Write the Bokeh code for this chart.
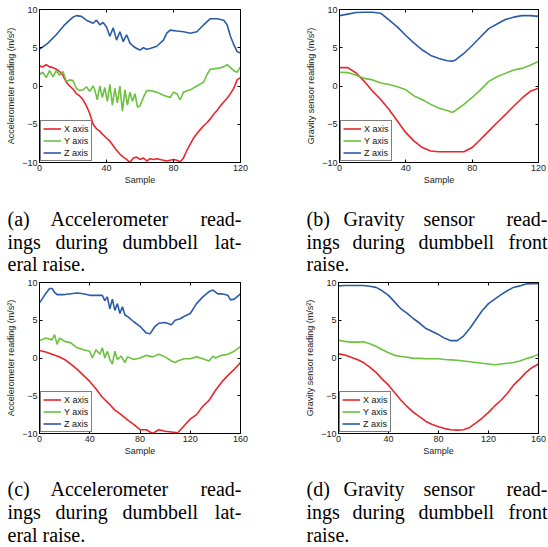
from bokeh.plotting import figure
from bokeh.models import LinearAxis, FixedTicker, Label, Legend, LegendItem, Range1d
from bokeh.layouts import column, row
from bokeh.embed import file_html
from bokeh.resources import INLINE

# ---------------- data ----------------
y_ticks = [-10, -5, 0, 5, 10]
y_tick_labels = ["−10", "−5", "0", "5", "10"]
x_ticks_120 = [0, 40, 80, 120]
x_ticks_160 = [0, 40, 80, 120, 160]
series_names = ["X axis", "Y axis", "Z axis"]

# (a) accelerometer, lateral raise
a_x_s = [0, 2, 4, 6, 8, 10, 12, 14, 16, 18, 20, 22, 24, 26, 28, 30, 32, 34, 36, 38, 40, 42, 44, 46, 48, 50,
         52, 54, 56, 58, 60, 62, 64, 66, 68, 70, 72, 74, 76, 78, 80, 82, 84, 86, 88, 90, 92, 94, 96, 98, 100,
         102, 104, 106, 108, 110, 112, 114, 116, 118, 120]
a_x_v = [2.6, 2.5, 2.8, 2.5, 2.4, 2.2, 1.9, 1.4, 0.5, 0.0, -0.4, -1.0, -1.3, -1.8, -2.6, -3.6, -5.0, -5.6, -5.9,
         -6.4, -6.8, -7.2, -7.8, -8.4, -8.9, -9.3, -9.6, -10.0, -9.4, -9.3, -9.6, -9.4, -9.8, -9.5, -9.6, -9.5,
         -9.6, -9.7, -9.8, -9.7, -9.6, -9.7, -9.9, -9.4, -8.4, -7.6, -6.8, -6.2, -5.7, -5.2, -4.8, -4.3, -3.7,
         -3.2, -2.6, -2.1, -1.6, -1.0, -0.3, 0.8, 1.1]
a_y_s = [0, 2, 4, 6, 8, 10, 12, 14, 16, 18, 20, 22, 24, 26, 28, 30, 32, 33, 34.5, 36, 37.5, 39, 40.5, 42, 43.5,
         45, 46.5, 48, 49.5, 51, 52.5, 54, 55.5, 57, 58.5, 60, 62, 64, 66, 70, 74, 78, 80, 82, 84, 86, 90, 94,
         98, 100, 102, 106, 110, 112, 116, 118, 120]
a_y_v = [1.5, 1.8, 1.1, 2.0, 1.2, 2.0, 1.4, 1.9, 0.6, 0.8, 0.7, -0.3, -0.6, -0.5, -0.1, -0.7, 0.0, -0.5, -1.8,
         0.0, -1.5, -0.2, -2.0, 0.2, -2.5, -0.3, -2.2, 0.0, -3.3, -0.5, -2.5, -0.8, -2.0, -1.0, -2.8, -2.6, -1.5,
         -0.6, -0.6, -0.8, -1.2, -1.5, -0.8, -1.0, -1.8, -0.8, -0.5, 0.0, 0.5, 1.5, 2.2, 2.3, 2.5, 2.8, 2.0,
         1.8, 2.5]
a_z_s = [0, 5, 10, 15, 18, 20, 22, 25, 28, 30, 32, 34, 36, 38, 40, 42, 44, 46, 48, 50, 52, 54, 56, 58, 60, 62,
         64, 66, 70, 74, 76, 78, 82, 86, 90, 94, 98, 102, 106, 110, 112, 114, 116, 118, 120]
a_z_v = [4.8, 5.6, 6.7, 8.0, 8.6, 9.0, 9.2, 9.1, 8.6, 8.4, 8.2, 8.6, 8.0, 8.3, 7.7, 6.5, 7.6, 6.0, 7.1, 5.8, 6.7,
         5.6, 5.2, 4.9, 4.7, 5.0, 4.8, 4.9, 5.2, 6.0, 6.9, 7.3, 7.2, 7.1, 6.9, 7.1, 8.0, 8.8, 8.8, 8.6, 8.0,
         6.5, 5.4, 4.5, 4.3]

# (b) gravity sensor, front raise
b_s = [0, 5, 10, 15, 20, 25, 30, 35, 40, 45, 50, 55, 60, 65, 68, 70, 75, 80, 85, 90, 95, 100, 105, 110, 115, 120]
b_x_v = [2.4, 2.4, 1.7, 0.6, -0.7, -1.8, -3.1, -4.6, -6.1, -7.2, -8.05, -8.5, -8.6, -8.6, -8.6, -8.6, -8.6,
         -8.05, -7.0, -5.9, -4.8, -3.75, -2.65, -1.6, -0.7, -0.3]
b_y_v = [1.8, 1.75, 1.4, 1.0, 0.8, 0.4, 0.2, -0.1, -0.5, -1.3, -1.8, -2.4, -2.9, -3.2, -3.45, -3.2, -2.4, -1.5,
         -0.5, 0.6, 1.2, 1.65, 2.1, 2.3, 2.7, 3.2]
b_z_v = [9.2, 9.4, 9.6, 9.65, 9.65, 9.5, 8.6, 7.7, 6.6, 5.6, 4.7, 4.0, 3.6, 3.3, 3.25, 3.4, 4.25, 5.3, 6.4, 7.5,
         8.1, 8.7, 9.0, 9.2, 9.2, 9.1]

# (c) accelerometer, lateral raise
c_x_s = [0, 5, 10, 15, 20, 25, 30, 35, 40, 45, 50, 55, 60, 65, 70, 75, 80, 85, 90, 95, 100, 105, 110, 115, 120,
         125, 130, 135, 140, 145, 150, 155, 160]
c_x_v = [1.0, 0.8, 0.5, 0.2, -0.2, -0.8, -1.5, -2.3, -3.1, -4.1, -5.2, -6.0, -6.9, -7.5, -8.2, -8.8, -9.5, -9.5,
         -10.0, -9.5, -9.7, -9.8, -9.9, -9.0, -8.1, -7.5, -6.4, -5.6, -4.3, -3.2, -2.3, -1.5, -0.6]
c_y_s = [0, 5, 10, 12, 14, 16, 20, 25, 30, 35, 40, 42, 45, 48, 50, 52, 54, 56, 58, 60, 62, 65, 68, 70, 75, 80,
         85, 90, 95, 100, 105, 108, 110, 115, 120, 125, 130, 135, 138, 140, 145, 150, 155, 160]
c_y_v = [2.3, 2.65, 2.4, 3.1, 1.8, 2.65, 2.2, 2.0, 1.35, 1.1, 0.9, 0.0, 1.1, 0.5, 1.35, 0.0, 0.9, -0.2, -0.8,
         0.9, -0.2, 0.25, -0.6, 0.15, -0.2, 0.0, 0.35, 0.15, 0.5, 0.15, -0.4, -0.6, -0.4, -0.1, -0.1, 0.15, -0.1,
         -0.4, 0.25, 0.0, 0.35, 0.5, 0.9, 1.5]
c_z_s = [0, 4, 8, 10, 12, 14, 20, 30, 35, 40, 45, 50, 52, 54, 56, 58, 60, 62, 64, 66, 68, 70, 75, 80, 85, 88,
         90, 92, 95, 100, 105, 108, 112, 115, 120, 125, 130, 135, 138, 142, 145, 150, 152, 155, 160]
c_z_v = [7.3, 8.3, 9.2, 9.2, 8.7, 8.4, 8.4, 8.6, 8.5, 8.3, 8.3, 8.3, 7.6, 8.1, 6.5, 7.8, 6.3, 7.2, 5.9, 6.8, 5.7,
         5.5, 4.8, 4.2, 3.3, 3.2, 3.7, 4.2, 4.6, 4.7, 4.4, 5.0, 5.2, 5.5, 5.9, 7.2, 8.1, 8.8, 9.0, 8.5, 8.5,
         8.3, 7.7, 7.8, 8.5]

# (d) gravity sensor, front raise
d_s = [0, 5, 10, 15, 20, 25, 30, 35, 40, 45, 50, 55, 60, 65, 70, 75, 80, 85, 90, 95, 100, 105, 110, 115, 120,
       125, 130, 135, 140, 145, 150, 155, 160]
d_x_v = [0.55, 0.4, 0.1, -0.2, -0.6, -1.2, -1.9, -2.8, -3.6, -4.6, -5.6, -6.45, -7.2, -7.8, -8.4, -8.8, -9.1,
         -9.35, -9.5, -9.55, -9.5, -9.2, -8.6, -7.95, -7.2, -6.35, -5.6, -4.7, -3.6, -2.8, -1.9, -1.25, -0.8]
d_y_v = [2.35, 2.2, 2.1, 2.1, 2.15, 1.9, 1.55, 1.1, 0.7, 0.35, 0.2, 0.1, -0.05, -0.05, -0.1, -0.1, -0.1, -0.2,
         -0.25, -0.3, -0.4, -0.5, -0.6, -0.7, -0.8, -0.9, -0.8, -0.7, -0.6, -0.4, -0.1, 0.15, 0.5]
d_z_v = [9.55, 9.6, 9.6, 9.6, 9.6, 9.5, 9.35, 8.9, 8.3, 7.4, 6.5, 5.9, 5.2, 4.6, 3.9, 3.5, 3.1, 2.6, 2.3, 2.3,
         2.9, 3.9, 5.1, 6.3, 7.2, 7.8, 8.4, 8.9, 9.35, 9.55, 9.8, 9.85, 9.85]

cap_a = [[("(a)", 7, "left"), ("Accelerometer", 50, "left"), ("read-", 241, "right")],
         [("ings", 7, "left"), ("during", 55, "left"), ("dumbbell", 122, "left"), ("lat-", 241, "right")],
         [("eral raise.", 7, "left")]]
cap_b = [[("(b)", 306, "left"), ("Gravity", 343, "left"), ("sensor", 423, "left"), ("read-", 547, "right")],
         [("ings", 306, "left"), ("during", 352, "left"), ("dumbbell", 418, "left"), ("front", 547, "right")],
         [("raise.", 306, "left")]]
cap_c = [[("(c)", 7, "left"), ("Accelerometer", 50, "left"), ("read-", 241, "right")],
         [("ings", 7, "left"), ("during", 55, "left"), ("dumbbell", 122, "left"), ("lat-", 241, "right")],
         [("eral raise.", 7, "left")]]
cap_d = [[("(d)", 306, "left"), ("Gravity", 343, "left"), ("sensor", 423, "left"), ("read-", 547, "right")],
         [("ings", 306, "left"), ("during", 352, "left"), ("dumbbell", 418, "left"), ("front", 547, "right")],
         [("raise.", 306, "left")]]

RED = "#e8262b"
GREEN = "#6cc13f"
BLUE = "#2c5ba8"
SANS = "Liberation Sans"
SERIF = "Liberation Serif"


def panel(series, xmax, xticks, ylabel, fig_box, frame_box):
    # fig_box: (left, top, width, height) in page px; frame_box: (left, top, right, bottom)
    fl, ft, fw, fh = fig_box
    L, T, R, B = frame_box
    p = figure(width=fw, height=fh, x_range=Range1d(0, xmax), y_range=Range1d(-10, 10),
               output_backend="svg", toolbar_location=None,
               min_border_left=L - fl, min_border_right=fl + fw - R,
               min_border_top=T - ft, min_border_bottom=ft + fh - B,
               x_axis_label="Sample", y_axis_label=ylabel)
    p.xgrid.visible = False
    p.ygrid.visible = False
    p.outline_line_color = "black"
    p.outline_line_width = 1
    p.background_fill_color = "white"
    p.border_fill_color = "white"
    for ax, ticks in ((p.xaxis[0], xticks), (p.yaxis[0], y_ticks)):
        ax.ticker = FixedTicker(ticks=ticks)
        ax.major_tick_in = 3
        ax.major_tick_out = 0
        ax.minor_tick_in = 0
        ax.minor_tick_out = 0
        ax.axis_line_color = "black"
        ax.major_tick_line_color = "black"
        ax.major_label_text_font = SANS
        ax.major_label_text_font_size = "9px"
        ax.major_label_text_color = "#222222"
        ax.axis_label_text_font = SANS
        ax.axis_label_text_font_size = "9px"
        ax.axis_label_text_font_style = "normal"
        ax.axis_label_text_color = "#222222"
    p.yaxis[0].major_label_overrides = dict(zip(y_ticks, y_tick_labels))
    p.xaxis[0].major_label_standoff = 2
    p.xaxis[0].axis_label_standoff = 1
    p.yaxis[0].major_label_standoff = 2
    p.yaxis[0].axis_label_standoff = 3
    # mirrored inward ticks (MATLAB box style)
    for side, ticks in (("right", y_ticks), ("above", xticks)):
        ax = LinearAxis(ticker=FixedTicker(ticks=ticks),
                        major_label_overrides={t: "" for t in ticks},
                        major_tick_in=3, major_tick_out=0, minor_tick_in=0, minor_tick_out=0,
                        major_label_standoff=0, major_label_text_font_size="1px",
                        axis_line_color="black", major_tick_line_color="black")
        p.add_layout(ax, side)

    items = []
    for (xs, ys, col), name in zip(series, series_names):
        r = p.line(xs, ys, line_color=col, line_width=1.6)
        items.append(LegendItem(label=name, renderers=[r]))
    leg = Legend(items=items, location=(1, 1), margin=0, padding=2, spacing=1,
                 glyph_height=11, glyph_width=18, label_height=11, label_standoff=3,
                 label_text_font=SANS, label_text_font_size="9px", label_text_color="#111111",
                 border_line_color="black", border_line_width=1.5, background_fill_alpha=1)
    p.add_layout(leg, "center")
    return p


def caption(lines, fig_box, baselines):
    fl, ft, fw, fh = fig_box
    c = figure(width=fw, height=fh, x_range=Range1d(0, fw), y_range=Range1d(fh, 0),
               output_backend="svg", toolbar_location=None, x_axis_type=None, y_axis_type=None,
               min_border=0, min_border_left=0, min_border_right=0, min_border_top=0, min_border_bottom=0)
    c.outline_line_color = None
    c.xgrid.visible = False
    c.ygrid.visible = False
    c.background_fill_color = "white"
    c.border_fill_color = "white"
    for line, base in zip(lines, baselines):
        for text, px, align in line:
            c.add_layout(Label(x=px - fl, y=base - 7 - ft, text=text,
                               text_font=SERIF, text_font_size="20px", text_color="black",
                               text_align=align, text_baseline="middle"))
    return c


pa = panel([(a_x_s, a_x_v, RED), (a_y_s, a_y_v, GREEN), (a_z_s, a_z_v, BLUE)], 120, x_ticks_120,
           "Accelerometer reading (m/s²)", (0, 0, 274, 190), (39, 9, 240, 164))
pb = panel([(b_s, b_x_v, RED), (b_s, b_y_v, GREEN), (b_s, b_z_v, BLUE)], 120, x_ticks_120,
           "Gravity sensor reading (m/s²)", (274, 0, 274, 190), (339, 9, 538, 162))
ca = caption(cap_a, (0, 190, 274, 84), [225, 248, 270])
cb = caption(cap_b, (274, 190, 274, 84), [225, 248, 270])
pc = panel([(c_x_s, c_x_v, RED), (c_y_s, c_y_v, GREEN), (c_z_s, c_z_v, BLUE)], 160, x_ticks_160,
           "Accelerometer reading (m/s²)", (0, 274, 274, 184), (39, 282, 240, 436))
pd = panel([(d_s, d_x_v, RED), (d_s, d_y_v, GREEN), (d_s, d_z_v, BLUE)], 160, x_ticks_160,
           "Gravity sensor reading (m/s²)", (274, 274, 274, 184), (338, 282, 538, 436))
cc = caption(cap_c, (0, 458, 274, 89), [495, 518, 541])
cd = caption(cap_d, (274, 458, 274, 89), [495, 518, 541])

layout = column(row(pa, pb, spacing=0), row(ca, cb, spacing=0),
                row(pc, pd, spacing=0), row(cc, cd, spacing=0), spacing=0)
open("out.html", "w").write(file_html(layout, INLINE))
